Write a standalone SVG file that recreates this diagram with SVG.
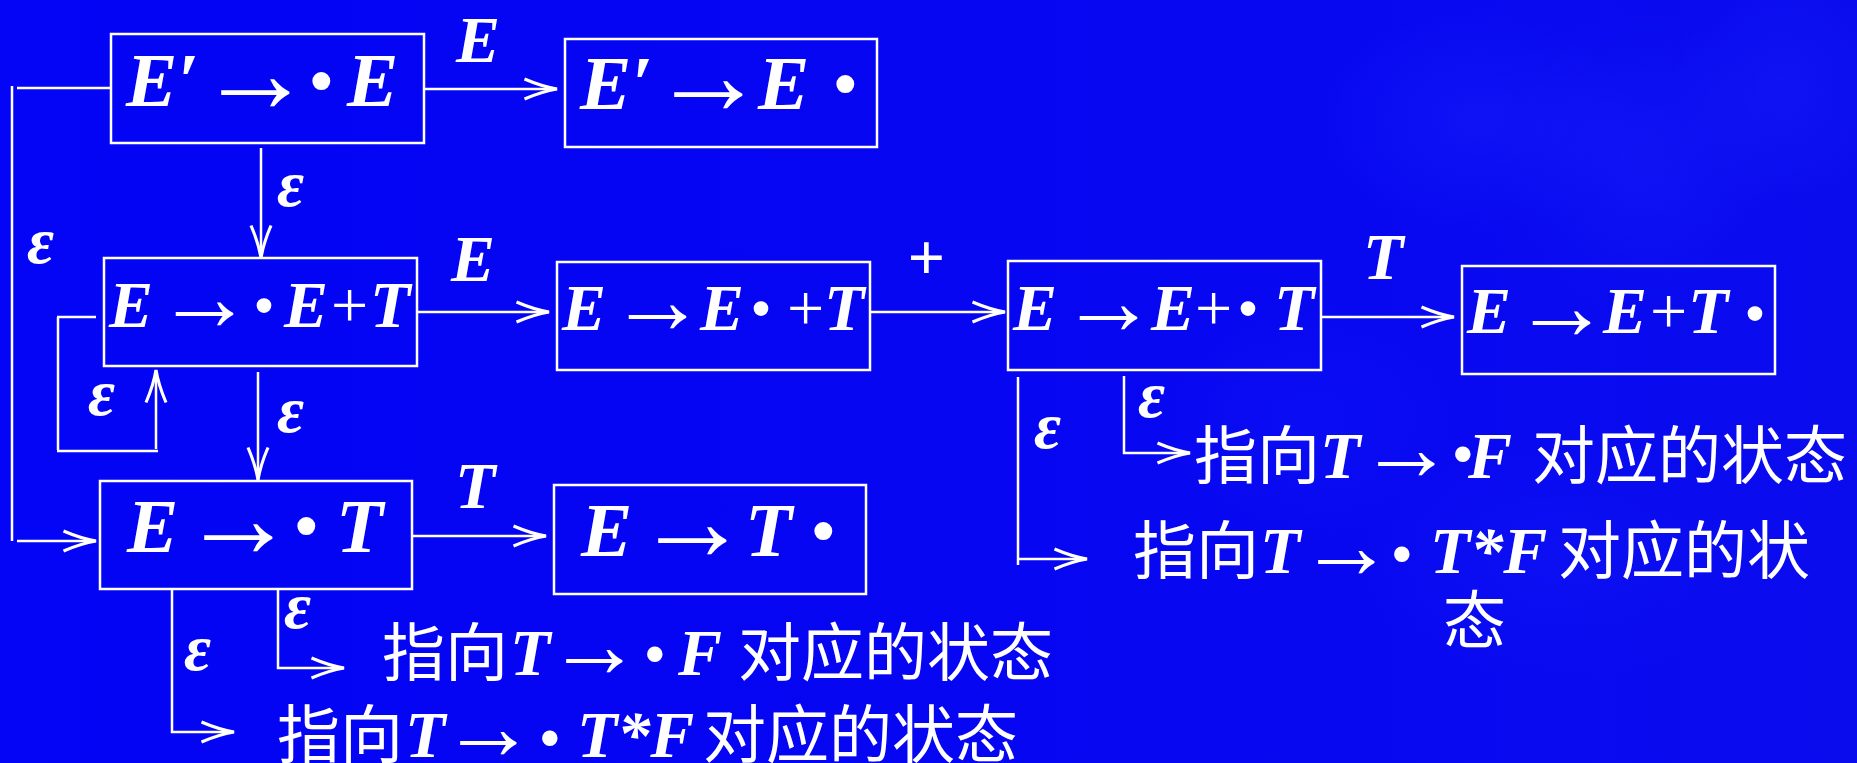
<svg xmlns="http://www.w3.org/2000/svg" width="1857" height="763" viewBox="0 0 1857 763">
<defs>
<linearGradient id="bg" x1="0" y1="0" x2="1" y2="0">
<stop offset="0" stop-color="#0404f6"/>
<stop offset="0.55" stop-color="#0606f2"/>
<stop offset="1" stop-color="#0a0cee"/>
</linearGradient>
<radialGradient id="patch">
<stop offset="0" stop-color="#1a24ff" stop-opacity="0.35"/>
<stop offset="1" stop-color="#1a24ff" stop-opacity="0"/>
</radialGradient>
<marker id="ah" markerUnits="userSpaceOnUse" markerWidth="40" markerHeight="30" viewBox="-30 -12 32 24" refX="0" refY="0" orient="auto">
<path d="M-26,-8 Q-12,-2 0,0 Q-12,2 -26,8" fill="none" stroke="#fff" stroke-width="2.5"/>
</marker>
<style>
.box{fill:none;stroke:#fff;stroke-width:2.5}
.ln{fill:none;stroke:#fff;stroke-width:2.5}
.arr{fill:none;stroke:#fff;stroke-width:2.5;marker-end:url(#ah)}
.m{font-family:"Liberation Serif","Times New Roman",serif;font-style:italic;font-weight:bold;fill:#fff}
.r{font-style:normal}
.rn{font-style:normal;font-weight:normal}
.cjk{font-family:"Noto Sans CJK SC","Liberation Serif",sans-serif;font-style:normal;font-weight:normal;font-size:63px}
.big{font-size:77px}
.mid{font-size:66px}
.a1{font-style:normal;font-size:115px}
.a2{font-style:normal;font-size:97px}
.a3{font-style:normal;font-size:95px}
.d1{font-style:normal;font-size:110px}
.d2{font-style:normal;font-size:90px}
.d3{font-style:normal;font-size:95px}
.lab{fill:#fff;font-family:"Liberation Serif","Times New Roman",serif;font-style:italic;font-weight:bold;font-size:66px}
</style>
</defs>
<rect width="1857" height="763" fill="url(#bg)"/>
<ellipse cx="1480" cy="120" rx="160" ry="110" fill="url(#patch)"/>
<ellipse cx="1640" cy="160" rx="140" ry="150" fill="url(#patch)"/>
<ellipse cx="1780" cy="90" rx="110" ry="120" fill="url(#patch)"/>
<ellipse cx="1560" cy="560" rx="200" ry="120" fill="url(#patch)" opacity="0.6"/>
<ellipse cx="1300" cy="420" rx="160" ry="120" fill="url(#patch)" opacity="0.5"/>

<g id="connectors">
<path class="arr" d="M424,89 H557"/>
<path class="ln" d="M111,88 H17"/>
<path class="ln" d="M12,86 V541"/>
<path class="arr" d="M17,541 H96"/>
<path class="arr" d="M261,148 V258"/>
<path class="arr" d="M417,312 H549"/>
<path class="arr" d="M870,312 H1005"/>
<path class="arr" d="M1321,317 H1454"/>
<path class="ln" d="M96,317 H57"/>
<path class="ln" d="M58,317 V450"/>
<path class="ln" d="M57,451 H158"/>
<path class="arr" d="M156,449 V370"/>
<path class="arr" d="M258,372 V480"/>
<path class="arr" d="M412,536 H546"/>
<path class="arr" d="M172,589 V732 H234"/>
<path class="arr" d="M278,589 V668 H344"/>
<path class="ln" d="M1018,377 V565"/>
<path class="arr" d="M1018,559 H1087"/>
<path class="arr" d="M1124,376 V453 H1190"/>
</g>

<g id="edge-labels">
<text class="lab" x="456" y="62" font-size="75">E</text>
<text class="lab" x="451" y="281" font-size="67">E</text>
<text class="lab rn" x="907" y="280" font-size="66">+</text>
<text class="lab" x="1363" y="279">T</text>
<text class="lab" x="455" y="508" font-size="72">T</text>
<text class="lab" x="27" y="263">ε</text>
<text class="lab" x="277" y="206">ε</text>
<text class="lab" x="88" y="415">ε</text>
<text class="lab" x="277" y="432">ε</text>
<text class="lab" x="184" y="670">ε</text>
<text class="lab" x="284" y="628">ε</text>
<text class="lab" x="1034" y="448">ε</text>
<text class="lab" x="1138" y="417">ε</text>
</g>

<g id="n1">
<rect class="box" x="111" y="34" width="313" height="109"/>
<text class="m big" y="106"><tspan x="126" y="106">E′</tspan><tspan class="a1" x="198" y="112">→</tspan><tspan class="d1" x="303" y="118">·</tspan><tspan x="347" y="106">E</tspan></text>
</g>
<g id="n2">
<rect class="box" x="565" y="39" width="312" height="108"/>
<text class="m big" y="109"><tspan x="580" y="109">E′</tspan><tspan class="a1" x="651" y="114">→</tspan><tspan x="758" y="109">E</tspan><tspan class="d1" x="827" y="121">·</tspan></text>
</g>
<g id="n3">
<rect class="box" x="104" y="258" width="313" height="108"/>
<text class="m mid" y="327"><tspan x="109" y="327">E</tspan><tspan class="a2" x="156" y="330">→</tspan><tspan class="d2" x="249" y="336">·</tspan><tspan x="284" y="327">E</tspan><tspan class="rn" x="331" y="327">+</tspan><tspan x="370" y="327">T</tspan></text>
</g>
<g id="n4">
<rect class="box" x="557" y="262" width="313" height="108"/>
<text class="m mid" y="330"><tspan x="562" y="330">E</tspan><tspan class="a2" x="609" y="333">→</tspan><tspan x="700" y="330">E</tspan><tspan class="d2" x="746" y="339">·</tspan><tspan class="rn" x="787" y="330">+</tspan><tspan x="824" y="330">T</tspan></text>
</g>
<g id="n5">
<rect class="box" x="1008" y="261" width="313" height="109"/>
<text class="m mid" y="330"><tspan x="1013" y="330">E</tspan><tspan class="a2" x="1060" y="334">→</tspan><tspan x="1151" y="330">E</tspan><tspan class="rn" x="1195" y="330">+</tspan><tspan class="d2" x="1233" y="339">·</tspan><tspan x="1274" y="330">T</tspan></text>
</g>
<g id="n6">
<rect class="box" x="1462" y="266" width="313" height="108"/>
<text class="m mid" y="333"><tspan x="1467" y="333">E</tspan><tspan class="a2" x="1513" y="339">→</tspan><tspan x="1603" y="333">E</tspan><tspan class="rn" x="1650" y="333">+</tspan><tspan x="1688" y="333">T</tspan><tspan class="d2" x="1740" y="344">·</tspan></text>
</g>
<g id="n7">
<rect class="box" x="100" y="481" width="312" height="108"/>
<text class="m big" y="552"><tspan x="127" y="552">E</tspan><tspan class="a1" x="181" y="557">→</tspan><tspan class="d1" x="288" y="563">·</tspan><tspan x="336" y="552">T</tspan></text>
</g>
<g id="n8">
<rect class="box" x="554" y="485" width="312" height="109"/>
<text class="m big" y="556"><tspan x="581" y="556">E</tspan><tspan class="a1" x="635" y="560">→</tspan><tspan x="745" y="556">T</tspan><tspan class="d1" x="805" y="568">·</tspan></text>
</g>

<g id="t1">
<text class="m mid" y="478"><tspan class="cjk" x="1194" y="478">指向</tspan><tspan x="1320" y="478">T</tspan><tspan class="a3" x="1359" y="480">→</tspan><tspan class="d3" x="1447" y="486">·</tspan><tspan x="1468" y="478">F</tspan><tspan class="cjk" x="1532" y="478">对应的状态</tspan></text>
</g>
<g id="t2">
<text class="m mid" y="573"><tspan class="cjk" x="1133" y="573">指向</tspan><tspan x="1260" y="573">T</tspan><tspan class="a3" x="1299" y="578">→</tspan><tspan class="d3" x="1386" y="586">·</tspan><tspan x="1430" y="573">T*F</tspan><tspan class="cjk" x="1558" y="573">对应的状</tspan></text>
<text class="m mid" y="643"><tspan class="cjk" x="1443" y="643">态</tspan></text>
</g>
<g id="t3">
<text class="m mid" y="675"><tspan class="cjk" x="382" y="675">指向</tspan><tspan x="510" y="675">T</tspan><tspan class="a3" x="547" y="677">→</tspan><tspan class="d3" x="639" y="686">·</tspan><tspan x="678" y="675">F</tspan><tspan class="cjk" x="738" y="675">对应的状态</tspan></text>
</g>
<g id="t4">
<text class="m mid" y="757"><tspan class="cjk" x="277" y="757">指向</tspan><tspan x="405" y="757">T</tspan><tspan class="a3" x="441" y="759">→</tspan><tspan class="d3" x="534" y="770">·</tspan><tspan x="577" y="757">T*F</tspan><tspan class="cjk" x="703" y="757">对应的状态</tspan></text>
</g>
</svg>
